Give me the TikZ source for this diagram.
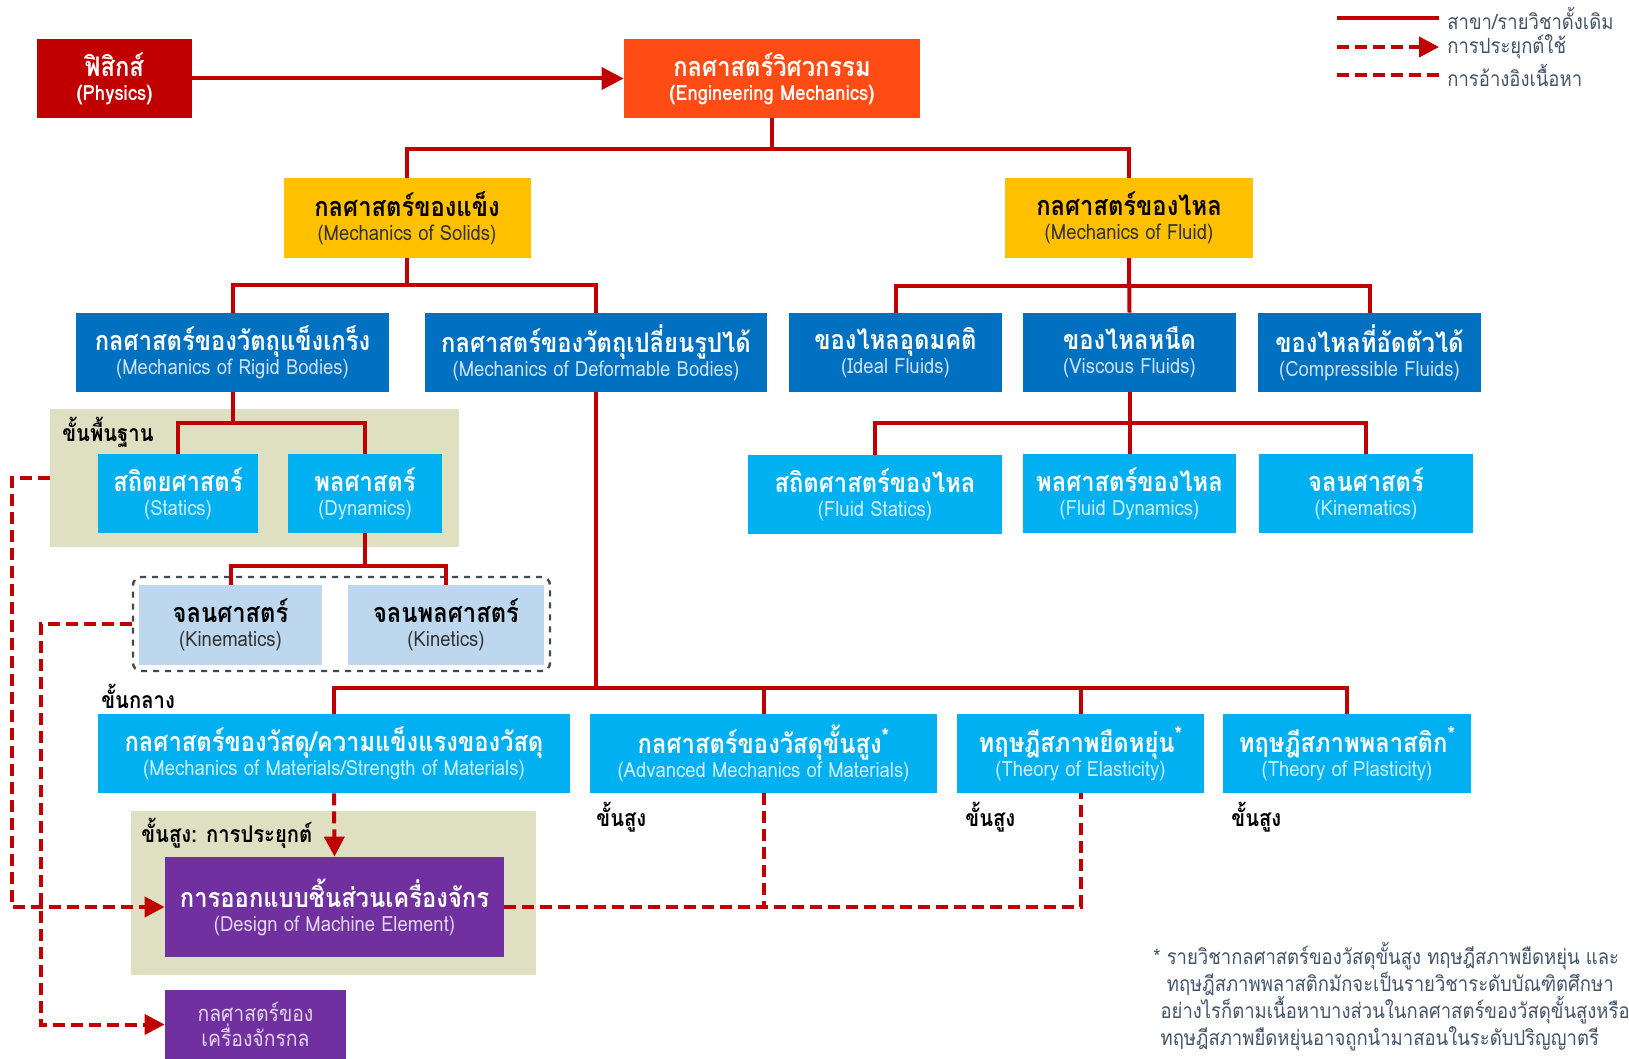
\documentclass[tikz,border=0pt]{standalone}
\usepackage{fontspec}
\setmainfont[Script=Thai, FakeStretch=0.88]{Loma}
\usetikzlibrary{positioning,calc,arrows.meta}

\definecolor{linered}{HTML}{C00000}
\definecolor{physred}{HTML}{C00000}
\definecolor{engorange}{HTML}{FF4B14}
\definecolor{solidgold}{HTML}{FFC000}
\definecolor{darkblue}{HTML}{0070C0}
\definecolor{skyblue}{HTML}{00B0F0}
\definecolor{paleblue}{HTML}{BDD7EE}
\definecolor{machpurple}{HTML}{7030A0}
\definecolor{stagebg}{HTML}{DFDFC1}
\definecolor{grpgray}{HTML}{404A55}
\definecolor{notegray}{HTML}{44546A}
\colorlet{subtxt}{black}

\newcommand{\thname}[1]{{\fontsize{13.5}{15}\selectfont\bfseries #1}}
\newcommand{\enname}[1]{{\color{subtxt}#1}}
\newcommand{\advmark}{\raisebox{0.35em}{\fontsize{11}{11}\selectfont *}}

\tikzstyle{tree} = [draw=linered, line width=2pt]
\tikzstyle{link} = [tree, -{Triangle[length=11pt,width=11pt]}]
\tikzstyle{apply} = [tree, dash pattern=on 6pt off 3pt, -{Triangle[length=10pt,width=10pt]}]
\tikzstyle{ref} = [tree, dash pattern=on 6pt off 3pt]

\begin{document}
\begin{tikzpicture}[x=0.5pt, y=-0.5pt]
\tikzstyle{every node}=[align=center, inner sep=1pt, font=\fontsize{10.5}{12}\selectfont]
\tikzstyle{box}=[minimum height=39.5pt]
\tikzstyle{physbox}=[box, fill=physred, text=white, execute at begin node={\colorlet{subtxt}{white}\bfseries}]
\tikzstyle{engbox}=[box, fill=engorange, text=white, execute at begin node={\colorlet{subtxt}{white}\bfseries}]
\tikzstyle{goldbox}=[box, fill=solidgold, text=black, execute at begin node={\colorlet{subtxt}{black!80}}]
\tikzstyle{bluebox}=[box, fill=darkblue, text=white, execute at begin node={\colorlet{subtxt}{white!80!darkblue}}]
\tikzstyle{skybox}=[box, fill=skyblue, text=white, execute at begin node={\colorlet{subtxt}{white!80!skyblue}}]
\tikzstyle{palebox}=[box, fill=paleblue, text=black, execute at begin node={\colorlet{subtxt}{black!80}}]
\tikzstyle{purplebox}=[box, fill=machpurple, text=white, execute at begin node={\colorlet{subtxt}{white!80!machpurple}}]
\tikzstyle{stagebox}=[fill=stagebg, inner sep=0pt]
\tikzstyle{grpbox}=[draw=grpgray, line width=1.2pt, dashed, rounded corners=4pt, inner sep=0pt]
\tikzstyle{stage}=[anchor=west, inner sep=0pt, font=\fontsize{11.5}{13}\selectfont\bfseries]
\tikzstyle{legend}=[anchor=west, inner sep=0pt, text=notegray, font=\fontsize{10.5}{12}\selectfont]
\useasboundingbox (0,0) rectangle (1629,1059);

	% stage backgrounds
	\node[stagebox, minimum width=204.5pt, minimum height=69pt] (basic) at (254.5,478) {};
	\node[stagebox, minimum width=202.5pt, minimum height=82pt] (applied) at (333.5,893) {};
	\node[grpbox, minimum width=208.5pt, minimum height=47pt] (kgroup) at (341.5,624) {};
	\node[stage] (basiclbl) at (62,432) {ขั้นพื้นฐาน};
	\node[stage] (midlbl) at (101,696) {ขั้นกลาง};
	\node[stage] (applbl) at (141,833) {ขั้นสูง: การประยุกต์};
	\node[stage] (advlbl) at (596,817) {ขั้นสูง};
	\node[stage] (elastlbl) at (965,817) {ขั้นสูง};
	\node[stage] (plastlbl) at (1231,817) {ขั้นสูง};

	\node[physbox, minimum width=77.5pt] (phys) at (114.5,78.5) {\thname{ฟิสิกส์}\\\enname{(Physics)}};
	\node[engbox, minimum width=148pt] (eng) at (772,78.5) {\thname{กลศาสตร์วิศวกรรม}\\\enname{(Engineering Mechanics)}};
	\node[goldbox, minimum width=123.5pt, minimum height=40pt] (solid) at (407,218) {\thname{กลศาสตร์ของแข็ง}\\\enname{(Mechanics of Solids)}};
	\node[goldbox, minimum width=124pt, minimum height=40pt] (fluid) at (1129,218) {\thname{กลศาสตร์ของไหล}\\\enname{(Mechanics of Fluid)}};

	\node[bluebox, minimum width=156.5pt] (rigid) at (232.5,352.5) {\thname{กลศาสตร์ของวัตถุแข็งเกร็ง}\\\enname{(Mechanics of Rigid Bodies)}};
	\node[bluebox, minimum width=171pt] (deform) at (596,352.5) {\thname{กลศาสตร์ของวัตถุเปลี่ยนรูปได้}\\\enname{(Mechanics of Deformable Bodies)}};
	\node[bluebox, minimum width=106.5pt] (ideal) at (895.5,352.5) {\thname{ของไหลอุดมคติ}\\\enname{(Ideal Fluids)}};
	\node[bluebox, minimum width=106.5pt] (viscous) at (1129.5,352.5) {\thname{ของไหลหนืด}\\\enname{(Viscous Fluids)}};
	\node[bluebox, minimum width=111.5pt] (compress) at (1369.5,352.5) {\thname{ของไหลที่อัดตัวได้}\\\enname{(Compressible Fluids)}};

	\node[skybox, minimum width=127pt] (fstat) at (875,494.5) {\thname{สถิตศาสตร์ของไหล}\\\enname{(Fluid Statics)}};
	\node[skybox, minimum width=106.5pt] (fdyn) at (1129.5,493.5) {\thname{พลศาสตร์ของไหล}\\\enname{(Fluid Dynamics)}};
	\node[skybox, minimum width=107pt] (fkin) at (1366,493.5) {\thname{จลนศาสตร์}\\\enname{(Kinematics)}};
	\node[skybox, minimum width=80pt] (statics) at (178,493.5) {\thname{สถิตยศาสตร์}\\\enname{(Statics)}};
	\node[skybox, minimum width=77pt] (dynamics) at (365,493.5) {\thname{พลศาสตร์}\\\enname{(Dynamics)}};
	\node[palebox, minimum width=91.5pt, minimum height=40pt] (kinem) at (230.5,625) {\thname{จลนศาสตร์}\\\enname{(Kinematics)}};
	\node[palebox, minimum width=98pt, minimum height=40pt] (kinet) at (446,625) {\thname{จลนพลศาสตร์}\\\enname{(Kinetics)}};

	\node[skybox, minimum width=236pt] (mom) at (334,753.5) {\thname{กลศาสตร์ของวัสดุ/ความแข็งแรงของวัสดุ}\\\enname{(Mechanics of Materials/Strength of Materials)}};
	\node[skybox, minimum width=173.5pt] (adv) at (763.5,753.5) {\thname{กลศาสตร์ของวัสดุขั้นสูง\advmark}\\\enname{(Advanced Mechanics of Materials)}};
	\node[skybox, minimum width=123.5pt] (elast) at (1080.5,753.5) {\thname{ทฤษฎีสภาพยืดหยุ่น\advmark}\\\enname{(Theory of Elasticity)}};
	\node[skybox, minimum width=124pt] (plast) at (1347,753.5) {\thname{ทฤษฎีสภาพพลาสติก\advmark}\\\enname{(Theory of Plasticity)}};

	\node[purplebox, minimum width=169.5pt, minimum height=50pt] (design) at (334.5,907) {\thname{การออกแบบชิ้นส่วนเครื่องจักร}\\\enname{(Design of Machine Element)}};
	\node[purplebox, minimum width=90.5pt, minimum height=34.5pt, font=\fontsize{11}{12.5}\selectfont, text=white!80!machpurple] (machine) at (255.5,1024.5) {กลศาสตร์ของ\\เครื่องจักรกล};

	% main tree
	\draw[link] (phys) to (eng);
	\draw[tree] (eng.south) -- ++(0,31) -| (solid.north);
	\draw[tree] (eng.south) -- ++(0,31) -| (fluid.north);
	\draw[tree] (solid.south) -- ++(0,27) -| (rigid.north);
	\draw[tree] (solid.south) -- ++(0,27) -| (deform.north);
	\draw[tree] (fluid.south) -- ++(0,28) -| (ideal.north);
	\draw[tree] (fluid.south) -- (viscous.north);
	\draw[tree] (fluid.south) -- ++(0,28) -| (compress.north);
	\draw[tree] (viscous.south) -- ++(0,31) -| (fstat.north);
	\draw[tree] (viscous.south) -- (fdyn.north);
	\draw[tree] (viscous.south) -- ++(0,31) -| (fkin.north);
	\draw[tree] (rigid.south) -- ++(0,31) -| (statics.north);
	\draw[tree] (rigid.south) -- ++(0,31) -| (dynamics.north);
	\draw[tree] (dynamics.south) -- ++(0,33) -| (kinem.north);
	\draw[tree] (dynamics.south) -- ++(0,33) -| (kinet.north);
	\draw[tree] (deform.south) -- ++(0,296) -| (mom.north);
	\draw[tree] (deform.south) -- ++(0,296) -| (adv.north);
	\draw[tree] (deform.south) -- ++(0,296) -| (elast.north);
	\draw[tree] (deform.south) -- ++(0,296) -| (plast.north);

	% applications and references
	\draw[apply] (mom.south) -- (design.north);
	\draw[ref] (design.east) -| (elast.south);
	\draw[ref] (adv.south) -- (adv.south |- design.east);
	\draw[apply] (basic.west) -- ++(-38,0) |- (design.west);
	\draw[apply] (kgroup.west) -- ++(-91,0) |- (machine.west);

	% legend
	\coordinate (lg1a) at (1337,18);
	\coordinate (lg1b) at (1439,18);
	\coordinate (lg2a) at (1337,47);
	\coordinate (lg2b) at (1439,47);
	\coordinate (lg3a) at (1337,75);
	\coordinate (lg3b) at (1439,75);
	\draw[tree] (lg1a) -- (lg1b);
	\draw[apply] (lg2a) -- (lg2b);
	\draw[ref] (lg3a) -- (lg3b);
	\node[legend] (lgt1) at (1447,18) {สาขา/รายวิชาดั้งเดิม};
	\node[legend] (lgt2) at (1447,47) {การประยุกต์ใช้};
	\node[legend] (lgt3) at (1447,75) {การอ้างอิงเนื้อหา};

	\node[legend, anchor=north west, align=left, font=\fontsize{10.5}{13.5}\selectfont] (note) at (1153,942) {* รายวิชากลศาสตร์ของวัสดุขั้นสูง ทฤษฎีสภาพยืดหยุ่น และ\\
	\phantom{* }ทฤษฎีสภาพพลาสติกมักจะเป็นรายวิชาระดับบัณฑิตศึกษา\\
	\phantom{*}อย่างไรก็ตามเนื้อหาบางส่วนในกลศาสตร์ของวัสดุขั้นสูงหรือ\\
	\phantom{*}ทฤษฎีสภาพยืดหยุ่นอาจถูกนำมาสอนในระดับปริญญาตรี};
\end{tikzpicture}
\end{document}
